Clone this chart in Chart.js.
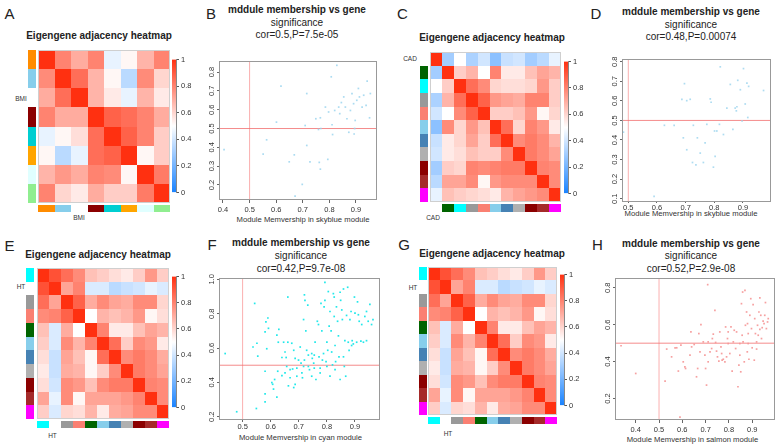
<!DOCTYPE html>
<html>
<head>
<meta charset="utf-8">
<script src="https://cdn.jsdelivr.net/npm/chart.js@4.4.1/dist/chart.umd.min.js"></script>
<style>
    body { margin: 0; width: 779px; height: 447px; position: relative; overflow: hidden; background: #fff;
           font-family: "Liberation Sans", Arial, sans-serif; color: #222; }
    .t { position: absolute; white-space: nowrap; line-height: 1; transform: translate(-50%, -50%); }
    .letter { font-size: 15px; }
    .htitle { font-size: 10px; font-weight: bold; }
    .s1 { font-size: 10px; font-weight: bold; }
    .s2 { font-size: 10px; }
    .ax { font-size: 7.7px; color: #333; }
    .lab { font-size: 6.5px; color: #333; }
    canvas { position: absolute; }
</style>
</head>
<body>

<!-- panel letters -->
<div class="t letter" style="left:9.5px;top:13px">A</div>
<div class="t letter" style="left:211px;top:13px">B</div>
<div class="t letter" style="left:402.5px;top:13px">C</div>
<div class="t letter" style="left:596px;top:13px">D</div>
<div class="t letter" style="left:9.5px;top:245px">E</div>
<div class="t letter" style="left:212px;top:244px">F</div>
<div class="t letter" style="left:404px;top:243.5px">G</div>
<div class="t letter" style="left:597.5px;top:243.5px">H</div>

<!-- heatmap titles -->
<div class="t htitle" style="left:99px;top:36px">Eigengene adjacency heatmap</div>
<div class="t htitle" style="left:492px;top:38px">Eigengene adjacency heatmap</div>
<div class="t htitle" style="left:98px;top:255px">Eigengene adjacency heatmap</div>
<div class="t htitle" style="left:492px;top:254px">Eigengene adjacency heatmap</div>

<!-- trait labels -->
<div class="t lab" style="left:21px;top:99px">BMI</div>
<div class="t lab" style="left:79px;top:218px">BMI</div>
<div class="t lab" style="left:410px;top:59px">CAD</div>
<div class="t lab" style="left:433px;top:218px">CAD</div>
<div class="t lab" style="left:21px;top:287px">HT</div>
<div class="t lab" style="left:52.5px;top:436px">HT</div>
<div class="t lab" style="left:413px;top:288px">HT</div>
<div class="t lab" style="left:448px;top:434px">HT</div>

<!-- scatter titles -->
<div class="t s1" style="left:297px;top:10px">mddule membership vs gene</div>
<div class="t s2" style="left:297px;top:23px">significance</div>
<div class="t s2" style="left:297px;top:35px">cor=0.5,P=7.5e-05</div>
<div class="t s1" style="left:691px;top:12px">mddule membership vs gene</div>
<div class="t s2" style="left:691px;top:24.5px">significance</div>
<div class="t s2" style="left:691px;top:37px">cor=0.48,P=0.00074</div>
<div class="t s1" style="left:301px;top:242.5px">mddule membership vs gene</div>
<div class="t s2" style="left:301px;top:256px">significance</div>
<div class="t s2" style="left:301px;top:269px">cor=0.42,P=9.7e-08</div>
<div class="t s1" style="left:691px;top:243.5px">mddule membership vs gene</div>
<div class="t s2" style="left:691px;top:256px">significance</div>
<div class="t s2" style="left:691px;top:269px">cor=0.52,P=2.9e-08</div>

<!-- x axis titles -->
<div class="t ax" style="left:303px;top:220px">Module Memvership in skyblue module</div>
<div class="t ax" style="left:691px;top:214px">Module Memvership in skyblue module</div>
<div class="t ax" style="left:300.5px;top:438px">Module Memvership in cyan module</div>
<div class="t ax" style="left:692.5px;top:440px">Module Memvership in salmon module</div>

<canvas id="heatA" width="142" height="162" style="left:28px;top:50px"></canvas>
<canvas id="barA" width="28" height="146" style="left:172px;top:53px"></canvas>
<canvas id="heatC" width="141" height="160" style="left:420px;top:52px"></canvas>
<canvas id="barC" width="28" height="145" style="left:564px;top:55px"></canvas>
<canvas id="heatE" width="143" height="160" style="left:26px;top:268px"></canvas>
<canvas id="barE" width="28" height="144" style="left:172px;top:270px"></canvas>
<canvas id="heatG" width="138" height="157" style="left:419px;top:267px"></canvas>
<canvas id="barG" width="28" height="144" style="left:560px;top:268px"></canvas>

<canvas id="scatB" width="184" height="160" style="left:203px;top:53px"></canvas>
<canvas id="scatD" width="173" height="162" style="left:606px;top:51px"></canvas>
<canvas id="scatF" width="187" height="162" style="left:203px;top:270px"></canvas>
<canvas id="scatH" width="180" height="163" style="left:599px;top:270px"></canvas>

<script>
// ---- module colours (rows of the heatmaps, '' = trait row) ----
const bmiModules = ['#ff8c00', '#87ceeb', '', '#8b0000', '#00ced1', '#ffa500', '#e0ffff', '#90ee90'];
const cadModules = ['', '#006400', '#00ffff', '#999999', '#fa8072', '#87ceeb', '#4682b4', '#b0b0b0', '#8b0000', '#a52a2a', '#ff00ff'];
const htModules  = ['#00ffff', '', '#999999', '#fa8072', '#006400', '#87ceeb', '#4682b4', '#b0b0b0', '#8b0000', '#a52a2a', '#ff00ff'];

// ---- eigengene adjacency matrices ----
const bmiAdjacency = [
    [1.00, 0.80, 0.70, 0.80, 0.45, 0.52, 0.68, 0.80],
    [0.78, 1.00, 0.85, 0.68, 0.52, 0.35, 0.78, 0.60],
    [0.70, 0.85, 1.00, 0.68, 0.55, 0.45, 0.68, 0.55],
    [0.80, 0.70, 0.70, 1.00, 0.88, 0.85, 0.80, 0.70],
    [0.45, 0.52, 0.58, 0.85, 1.00, 0.88, 0.80, 0.62],
    [0.52, 0.35, 0.45, 0.85, 0.88, 1.00, 0.52, 0.62],
    [0.68, 0.75, 0.70, 0.80, 0.78, 0.52, 1.00, 0.82],
    [0.80, 0.60, 0.55, 0.70, 0.62, 0.62, 0.82, 1.00]
];

const cadAdjacency = [
    [1.00, 0.30, 0.50, 0.32, 0.40, 0.25, 0.38, 0.40, 0.30, 0.35, 0.45],
    [0.30, 1.00, 0.62, 0.68, 0.50, 0.80, 0.55, 0.55, 0.65, 0.72, 0.68],
    [0.50, 0.62, 1.00, 0.85, 0.78, 0.60, 0.58, 0.58, 0.60, 0.75, 0.62],
    [0.32, 0.68, 0.85, 1.00, 0.88, 0.75, 0.72, 0.70, 0.80, 0.80, 0.62],
    [0.40, 0.50, 0.78, 0.88, 1.00, 0.62, 0.62, 0.65, 0.75, 0.52, 0.60],
    [0.25, 0.78, 0.60, 0.75, 0.65, 1.00, 0.85, 0.60, 0.80, 0.75, 0.55],
    [0.38, 0.55, 0.60, 0.72, 0.62, 0.85, 1.00, 0.78, 0.82, 0.78, 0.68],
    [0.40, 0.55, 0.58, 0.65, 0.62, 0.62, 0.78, 1.00, 0.82, 0.78, 0.72],
    [0.30, 0.62, 0.60, 0.80, 0.78, 0.80, 0.82, 0.82, 1.00, 0.80, 0.78],
    [0.35, 0.72, 0.72, 0.78, 0.52, 0.75, 0.78, 0.78, 0.78, 1.00, 0.78],
    [0.45, 0.65, 0.62, 0.60, 0.58, 0.55, 0.68, 0.72, 0.75, 0.78, 1.00]
];

const htAdjacency = [
    [1.00, 0.92, 0.85, 0.78, 0.65, 0.62, 0.58, 0.55, 0.62, 0.75, 0.62],
    [0.92, 1.00, 0.72, 0.80, 0.42, 0.42, 0.35, 0.38, 0.40, 0.45, 0.42],
    [0.85, 0.72, 1.00, 0.88, 0.70, 0.78, 0.72, 0.70, 0.78, 0.78, 0.60],
    [0.78, 0.80, 0.88, 1.00, 0.50, 0.68, 0.65, 0.68, 0.75, 0.52, 0.58],
    [0.65, 0.42, 0.70, 0.50, 1.00, 0.80, 0.55, 0.55, 0.65, 0.72, 0.68],
    [0.62, 0.42, 0.78, 0.68, 0.80, 1.00, 0.85, 0.62, 0.78, 0.75, 0.55],
    [0.58, 0.38, 0.72, 0.65, 0.52, 0.85, 1.00, 0.78, 0.82, 0.78, 0.70],
    [0.55, 0.38, 0.70, 0.68, 0.52, 0.62, 0.78, 1.00, 0.82, 0.78, 0.72],
    [0.58, 0.40, 0.78, 0.75, 0.65, 0.78, 0.82, 0.82, 1.00, 0.80, 0.78],
    [0.72, 0.45, 0.78, 0.52, 0.72, 0.72, 0.72, 0.75, 0.80, 1.00, 0.78],
    [0.62, 0.42, 0.60, 0.58, 0.68, 0.55, 0.70, 0.72, 0.78, 0.78, 1.00]
];

// ---- module membership vs gene significance, [MM, GS] ----
const skyblueBmiGenes = [
    [0.404,0.388],[0.595,0.879],[0.665,0.868],[0.618,0.725],[0.601,0.534],[0.564,0.44],[0.551,0.364],
    [0.649,0.323],[0.668,0.36],[0.671,0.141],[0.698,0.203],[0.715,0.41],[0.715,0.686],[0.727,0.323],
    [0.709,0.516],[0.749,0.552],[0.759,0.495],[0.766,0.557],[0.768,0.5],[0.762,0.32],[0.766,0.284],
    [0.785,0.614],[0.797,0.588],[0.794,0.336],[0.807,0.775],[0.812,0.468],[0.81,0.52],[0.82,0.596],
    [0.828,0.836],[0.835,0.614],[0.839,0.579],[0.845,0.638],[0.854,0.668],[0.86,0.614],[0.866,0.552],
    [0.873,0.48],[0.879,0.596],[0.885,0.686],[0.891,0.632],[0.897,0.543],[0.895,0.5],[0.893,0.471],
    [0.903,0.65],[0.909,0.713],[0.913,0.668],[0.923,0.614],[0.929,0.677],[0.938,0.623],[0.942,0.752],
    [0.951,0.557],[0.954,0.686]
];

const skyblueCadGenes = [
    [0.483,0.44],[0.473,0.368],[0.59,0.112],[0.626,0.475],[0.66,0.475],[0.696,0.688],[0.687,0.608],
    [0.704,0.601],[0.716,0.608],[0.692,0.411],[0.704,0.35],[0.724,0.285],[0.736,0.273],[0.727,0.475],
    [0.741,0.411],[0.751,0.333],[0.762,0.285],[0.768,0.385],[0.774,0.48],[0.786,0.61],[0.789,0.593],
    [0.797,0.261],[0.801,0.446],[0.803,0.316],[0.809,0.446],[0.818,0.48],[0.821,0.774],[0.832,0.428],
    [0.844,0.563],[0.856,0.684],[0.865,0.454],[0.873,0.563],[0.877,0.549],[0.879,0.57],[0.882,0.705],
    [0.891,0.657],[0.897,0.497],[0.902,0.765],[0.908,0.584],[0.914,0.691],[0.917,0.515],[0.92,0.674],
    [0.972,0.653]
];

const cyanHtGenes = [
    [0.438,0.568],[0.479,0.229],[0.543,0.86],[0.537,0.606],[0.551,0.628],[0.554,0.553],[0.549,0.248],
    [0.58,0.465],[0.586,0.596],[0.583,0.752],[0.59,0.775],[0.58,0.694],[0.592,0.715],[0.58,0.333],
    [0.58,0.286],[0.604,0.399],[0.614,0.417],[0.607,0.389],[0.622,0.675],[0.629,0.709],[0.627,0.634],
    [0.625,0.465],[0.622,0.314],[0.64,0.545],[0.646,0.634],[0.651,0.577],[0.655,0.545],[0.657,0.493],
    [0.661,0.897],[0.661,0.634],[0.663,0.38],[0.669,0.474],[0.675,0.628],[0.682,0.587],[0.682,0.37],
    [0.687,0.54],[0.693,0.483],[0.699,0.53],[0.705,0.606],[0.711,0.455],[0.708,0.512],[0.713,0.427],
    [0.717,0.766],[0.72,0.91],[0.722,0.878],[0.725,0.7],[0.732,0.85],[0.728,0.587],[0.734,0.559],
    [0.738,0.474],[0.746,0.568],[0.748,0.54],[0.753,0.512],[0.755,0.559],[0.758,0.634],[0.761,0.417],
    [0.766,0.756],[0.77,0.737],[0.772,0.549],[0.776,0.483],[0.779,0.86],[0.782,0.7],[0.784,0.53],
    [0.788,0.568],[0.79,0.84],[0.793,0.878],[0.793,0.982],[0.797,0.521],[0.8,0.634],[0.803,0.587],
    [0.805,0.929],[0.808,0.728],[0.811,0.813],[0.815,0.7],[0.817,0.577],[0.82,0.502],[0.823,0.917],
    [0.826,0.897],[0.826,0.784],[0.829,0.615],[0.831,0.521],[0.834,0.84],[0.838,0.756],[0.841,0.671],
    [0.843,0.549],[0.847,0.925],[0.849,0.878],[0.853,0.822],[0.855,0.766],[0.859,0.944],[0.859,0.549],
    [0.862,0.493],[0.864,0.643],[0.867,0.436],[0.87,0.79],[0.874,0.954],[0.876,0.634],[0.879,0.587],
    [0.882,0.766],[0.886,0.813],[0.888,0.615],[0.89,0.643],[0.894,0.624],[0.898,0.897],[0.9,0.803],
    [0.906,0.634],[0.909,0.869],[0.912,0.794],[0.915,0.756],[0.921,0.64],[0.924,0.737],[0.93,0.634],
    [0.935,0.784],[0.941,0.643],[0.941,0.813],[0.947,0.756],[0.953,0.854],[0.959,0.737],[0.964,0.766],
    [0.687,0.389],[0.693,0.436],[0.669,0.427],[0.746,0.436],[0.776,0.455],[0.811,0.436],[0.755,0.483],
    [0.734,0.493],[0.717,0.493],[0.64,0.44],[0.61,0.361],[0.651,0.455],[0.72,0.53],[0.8,0.493],
    [0.829,0.474],[0.847,0.417],[0.678,0.478]
];

const salmonHtGenes = [
    [0.337,0.486],[0.4,0.336],[0.526,0.295],[0.533,0.468],[0.554,0.426],[0.569,0.475],[0.576,0.475],
    [0.583,0.349],[0.59,0.1],[0.604,0.399],[0.611,0.372],[0.614,0.363],[0.594,0.489],[0.633,0.435],
    [0.637,0.561],[0.651,0.493],[0.661,0.318],[0.666,0.363],[0.671,0.552],[0.676,0.453],[0.68,0.601],
    [0.69,0.507],[0.697,0.435],[0.7,0.363],[0.704,0.273],[0.709,0.817],[0.711,0.507],[0.719,0.453],
    [0.726,0.471],[0.729,0.525],[0.733,0.549],[0.74,0.678],[0.743,0.504],[0.747,0.457],[0.751,0.426],
    [0.757,0.403],[0.761,0.561],[0.766,0.48],[0.771,0.408],[0.776,0.413],[0.783,0.399],[0.786,0.588],
    [0.79,0.426],[0.794,0.525],[0.797,0.561],[0.804,0.444],[0.809,0.588],[0.814,0.349],[0.819,0.507],
    [0.823,0.57],[0.829,0.471],[0.833,0.561],[0.839,0.264],[0.843,0.381],[0.847,0.435],[0.851,0.345],
    [0.854,0.714],[0.857,0.543],[0.859,0.777],[0.861,0.507],[0.866,0.399],[0.869,0.786],[0.871,0.597],
    [0.876,0.669],[0.879,0.453],[0.88,0.606],[0.883,0.552],[0.886,0.413],[0.89,0.651],[0.894,0.741],
    [0.897,0.579],[0.9,0.475],[0.904,0.709],[0.909,0.408],[0.911,0.633],[0.914,0.552],[0.919,0.468],
    [0.923,0.597],[0.926,0.543],[0.929,0.669],[0.933,0.745],[0.933,0.575],[0.937,0.651],[0.94,0.525],
    [0.943,0.584],[0.947,0.619],[0.951,0.606],[0.954,0.651],[0.957,0.72],[0.961,0.579],[0.966,0.615],
    [0.969,0.633],[0.797,0.498],[0.769,0.444],[0.883,0.498],[0.919,0.507],[0.847,0.498],[0.64,0.48],
    [0.711,0.399]
];

// significance thresholds drawn as red guide lines
const mmCutoff = 0.5;
const gsCutoff = 0.5;

// blue - white - red colour scale of the heatmaps
const heatStops = [[0, [24, 130, 255]], [0.5, [255, 255, 255]], [1, [255, 48, 16]]];

function heatColor(v) {
    for (let k = 1; k < heatStops.length; k++) {
        const [p1, c1] = heatStops[k];
        const [p0, c0] = heatStops[k - 1];
        if (v <= p1) {
            const t = (v - p0) / (p1 - p0);
            const c = c0.map((a, i) => Math.round(a + (c1[i] - a) * t));
            return `rgb(${c[0]},${c[1]},${c[2]})`;
        }
    }
    return 'rgb(255,48,16)';
}


/* ---------- heatmap cells + module colour strips ---------- */

const heatPlugin = {
    id: 'heatCells',
    beforeDatasetsDraw(chart, args, o) {
        const { ctx, scales: { x, y } } = chart;
        const ds = chart.data.datasets[0];
        const px = v => Math.round(x.getPixelForValue(v));
        const py = v => Math.round(y.getPixelForValue(v));
        ctx.save();
        ds.data.forEach(c => {
            ctx.fillStyle = heatColor(c.v);
            ctx.fillRect(px(c.x), py(c.y), px(c.x + 1) - px(c.x), py(c.y + 1) - py(c.y));
        });
        const n = ds.strip.length;
        ds.strip.forEach((col, i) => {
            if (!col) return;
            ctx.fillStyle = col;
            ctx.fillRect(px(0) - o.gapL - o.wL, py(i), o.wL, py(i + 1) - py(i));
            ctx.fillRect(px(i), py(n) + o.gapB, px(i + 1) - px(i), o.wB);
        });
        ctx.strokeStyle = '#cfcfcf';
        ctx.lineWidth = 1;
        ctx.strokeRect(px(0) + 0.5, py(0) + 0.5, px(n) - px(0) - 1, py(n) - py(0) - 1);
        ctx.restore();
    }
};

function heatPanel(id, matrix, strip, g) {
    const n = matrix.length;
    const cells = [];
    matrix.forEach((row, i) => row.forEach((v, j) => cells.push({ x: j, y: i, v: v })));
    new Chart(document.getElementById(id), {
        type: 'scatter',
        data: { datasets: [{ data: cells, strip: strip, pointRadius: 0 }] },
        options: {
            responsive: false,
            animation: false,
            events: [],
            layout: { padding: { left: g.gapL + g.wL, bottom: g.gapB + g.wB, top: 0, right: 0 } },
            plugins: { legend: { display: false }, tooltip: { enabled: false }, heatCells: g },
            scales: {
                x: { type: 'linear', min: 0, max: n, display: false },
                y: { type: 'linear', min: 0, max: n, reverse: true, display: false }
            }
        },
        plugins: [heatPlugin]
    });
}

function colorBar(id) {
    new Chart(document.getElementById(id), {
        type: 'bar',
        data: {
            labels: [''],
            datasets: [{
                data: [[0, 1]],
                barPercentage: 1,
                categoryPercentage: 1,
                borderWidth: 0,
                backgroundColor: function(context) {
                    const area = context.chart.chartArea;
                    if (!area) return '#fff';
                    const grad = context.chart.ctx.createLinearGradient(0, area.bottom, 0, area.top);
                    heatStops.forEach(([p, c]) => grad.addColorStop(p, `rgb(${c[0]},${c[1]},${c[2]})`));
                    return grad;
                }
            }]
        },
        options: {
            responsive: false,
            animation: false,
            events: [],
            layout: { padding: { top: 6, bottom: 6, left: 0, right: 0 } },
            plugins: { legend: { display: false }, tooltip: { enabled: false } },
            scales: {
                x: { display: false },
                y: {
                    position: 'right',
                    min: 0,
                    max: 1,
                    afterFit: s => { s.width = 24; },
                    grid: { drawOnChartArea: false, tickLength: 3, color: '#555' },
                    border: { display: true, color: '#888' },
                    ticks: {
                        stepSize: 0.2,
                        padding: 2,
                        color: '#333',
                        font: { family: 'Liberation Sans', size: 7.5 },
                        callback: v => (v === 0 || v === 1) ? String(v) : v.toFixed(1)
                    }
                }
            }
        }
    });
}

heatPanel('heatA', bmiAdjacency, bmiModules, { gapL: 2, wL: 8, gapB: 2, wB: 7 });
heatPanel('heatC', cadAdjacency, cadModules, { gapL: 2, wL: 8, gapB: 2, wB: 8 });
heatPanel('heatE', htAdjacency, htModules, { gapL: 3, wL: 8, gapB: 2, wB: 7 });
heatPanel('heatG', htAdjacency, htModules, { gapL: 1, wL: 8, gapB: 2, wB: 7 });
colorBar('barA');
colorBar('barC');
colorBar('barE');
colorBar('barG');


/* ---------- scatter plots ---------- */

const framePlugin = {
    id: 'frame',
    afterDraw(chart) {
        const { ctx, chartArea: a } = chart;
        ctx.save();
        ctx.strokeStyle = '#999';
        ctx.lineWidth = 1;
        ctx.strokeRect(Math.round(a.left) + 0.5, Math.round(a.top) + 0.5,
                       Math.round(a.right - a.left) - 1, Math.round(a.bottom - a.top) - 1);
        ctx.restore();
    }
};

function scatterPanel(id, genes, color, g) {
    const tickFont = { family: 'Liberation Sans', size: 7.5 };
    new Chart(document.getElementById(id), {
        type: 'scatter',
        data: {
            datasets: [
                {
                    data: genes.map(p => ({ x: p[0], y: p[1] })),
                    pointStyle: 'rect',
                    pointRadius: 1.2,
                    borderWidth: 0,
                    backgroundColor: color
                },
                {
                    type: 'line',
                    data: [{ x: mmCutoff, y: g.yMin }, { x: mmCutoff, y: g.yMax }],
                    borderColor: 'rgba(245,110,110,0.55)',
                    borderWidth: 1,
                    pointRadius: 0
                },
                {
                    type: 'line',
                    data: [{ x: g.xMin, y: gsCutoff }, { x: g.xMax, y: gsCutoff }],
                    borderColor: 'rgba(240,90,90,0.7)',
                    borderWidth: 1,
                    pointRadius: 0
                }
            ]
        },
        options: {
            responsive: false,
            animation: false,
            events: [],
            layout: { padding: { top: 8, right: g.padR, left: 0, bottom: 0 } },
            plugins: { legend: { display: false }, tooltip: { enabled: false } },
            scales: {
                x: {
                    type: 'linear',
                    min: g.xMin,
                    max: g.xMax,
                    afterFit: s => { s.height = g.xh; },
                    grid: { drawOnChartArea: false, tickLength: g.xtl, color: '#666' },
                    border: { display: false },
                    ticks: {
                        stepSize: 0.1, includeBounds: false, autoSkip: false, maxRotation: 0,
                        padding: g.xpad, color: '#333', font: tickFont,
                        callback: v => v.toFixed(1)
                    }
                },
                y: {
                    type: 'linear',
                    min: g.yMin,
                    max: g.yMax,
                    afterFit: s => { s.width = 16; },
                    grid: { drawOnChartArea: false, tickLength: 2, color: '#666' },
                    border: { display: false },
                    ticks: {
                        stepSize: g.yStep, includeBounds: false, autoSkip: false,
                        minRotation: 90, maxRotation: 90, crossAlign: 'center',
                        padding: 0, color: '#333', font: tickFont,
                        callback: v => v.toFixed(1)
                    }
                }
            }
        },
        plugins: [framePlugin]
    });
}

scatterPanel('scatB', skyblueBmiGenes, 'rgba(150,210,238,0.8)',
    { xMin: 0.385, xMax: 0.979, yMin: 0.12, yMax: 0.859, yStep: 0.1, padR: 10, xh: 13, xtl: 3, xpad: 2 });
scatterPanel('scatD', skyblueCadGenes, 'rgba(160,214,238,0.85)',
    { xMin: 0.478, xMax: 0.998, yMin: 0.083, yMax: 0.814, yStep: 0.1, padR: 8, xh: 11, xtl: 1, xpad: 0 });
scatterPanel('scatF', cyanHtGenes, '#22e8ea',
    { xMin: 0.416, xMax: 0.989, yMin: 0.181, yMax: 1.008, yStep: 0.2, padR: 10, xh: 12, xtl: 2, xpad: 0 });
scatterPanel('scatH', salmonHtGenes, 'rgba(245,150,150,0.9)',
    { xMin: 0.311, xMax: 0.998, yMin: 0.084, yMax: 0.853, yStep: 0.2, padR: 3, xh: 13, xtl: 3, xpad: 2 });
</script>
</body>
</html>
